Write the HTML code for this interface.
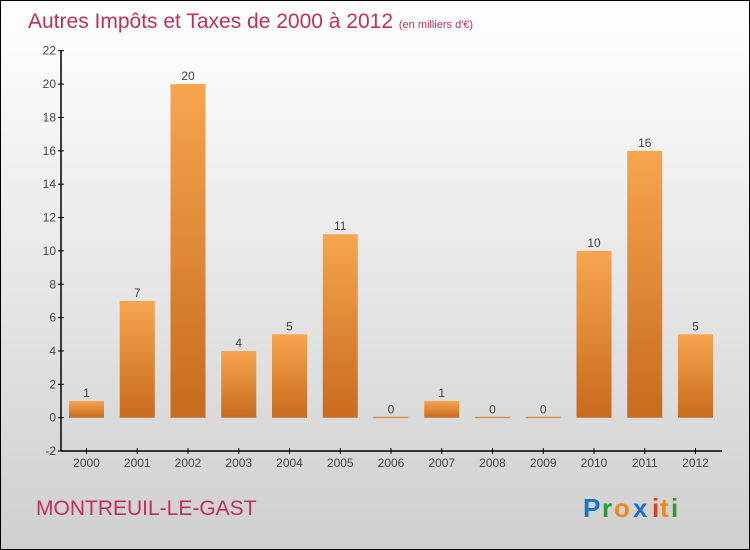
<!DOCTYPE html>
<html><head><meta charset="utf-8"><style>
body{margin:0;}
#c{position:relative;width:748px;height:548px;border:1px solid #000;background:linear-gradient(#ffffff,#cfcfcf);overflow:hidden;font-family:"Liberation Sans",sans-serif;}
</style></head><body>
<div id="c">
<svg width="748" height="548" style="position:absolute;left:0;top:0" id="svg">
<text x="27" y="27" font-size="21" fill="#c0305a">Autres Impôts et Taxes de 2000 à 2012 <tspan font-size="11">(en milliers d'€)</tspan></text>
<text x="35" y="514" font-size="21" fill="#c0305a">MONTREUIL-LE-GAST</text>
<g font-size="26" font-weight="bold">
<text x="582" y="516" fill="#1a74c8">P</text><text x="601" y="516" fill="#2a9a3a">r</text><text x="613" y="516" fill="#f08a10">o</text><text x="632" y="516" fill="#1a74c8">x</text><text x="651" y="516" fill="#e04020">i</text><text x="659" y="516" fill="#f08a10">t</text><text x="670" y="516" fill="#2a9a3a">i</text>
</g>
<defs><linearGradient id="bg" x1="0" y1="0" x2="0" y2="1"><stop offset="0" stop-color="#f7a54e"/><stop offset="1" stop-color="#c76b1c"/></linearGradient></defs>
<g id="plot"></g>
</svg>
</div>
<script>
const years=["2000","2001","2002","2003","2004","2005","2006","2007","2008","2009","2010","2011","2012"];
const values=[1,7,20,4,5,11,0,1,0,0,10,16,5];
const yTicks=[-2,0,2,4,6,8,10,12,14,16,18,20,22];
const NS="http://www.w3.org/2000/svg";
const g=document.getElementById('plot');
const y=v=>416.7-v*16.68;
const x=i=>85.5+i*50.75;
function mk(t,a){const e=document.createElementNS(NS,t);for(const k in a)e.setAttribute(k,a[k]);g.appendChild(e);return e;}
let ax=mk('line',{x1:60,y1:49,x2:60,y2:450,stroke:'#000','stroke-width':1.5});


let bx=mk('line',{x1:60,y1:450,x2:721,y2:450,stroke:'#000','stroke-width':1.5});


yTicks.forEach(v=>{
 mk('line',{x1:57,x2:63,y1:y(v),y2:y(v),stroke:'#000'});
 const t=mk('text',{x:55,y:y(v)+4,'text-anchor':'end','font-size':12,fill:'#444'});t.textContent=v;
 
 
});
years.forEach((yr,i)=>{
 const v=values[i];
 const top=Math.min(y(v),y(0)),h=Math.max(Math.abs(y(0)-y(v)),1.5);
 const r=mk('rect',{x:x(i)-17.5,y:v===0?y(0)-1:top,width:35,height:h,fill:v===0?'#d89048':'url(#bg)'});
 
 
 const l=mk('text',{x:x(i),y:top-4,'text-anchor':'middle','font-size':12,fill:'#444'});l.textContent=v;
 
 
 mk('line',{x1:x(i),x2:x(i),y1:447,y2:453,stroke:'#000'});
 const t=mk('text',{x:x(i),y:466,'text-anchor':'middle','font-size':12,fill:'#444'});t.textContent=yr;
 
 
});
</script>
</body></html>
